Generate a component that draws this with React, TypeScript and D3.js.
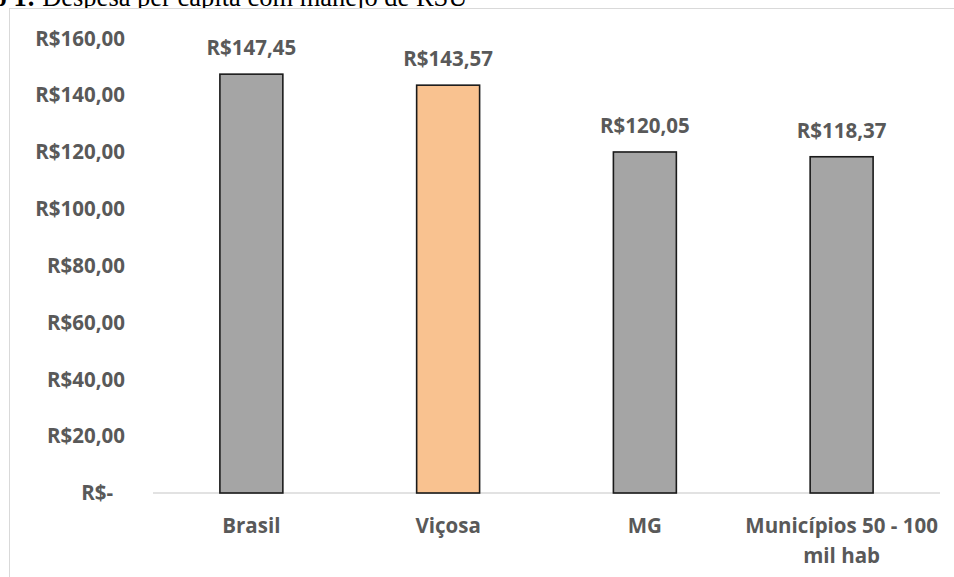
import React, { useRef, useEffect } from 'react';
import * as d3 from 'd3';

const categories = ['Brasil', 'Viçosa', 'MG', 'Municípios 50 - 100 mil hab'];
const values = [147.45, 143.57, 120.05, 118.37];
const barColors = ['#a5a5a5', '#f9c290', '#a5a5a5', '#a5a5a5'];
const yTicks = [0, 20, 40, 60, 80, 100, 120, 140, 160];

const W = 954;
const H = 577;

const brl = (v: number) => (v === 0 ? 'R$-' : 'R$' + v.toFixed(2).replace('.', ','));

const App = () => {
    const svgRef = useRef<SVGSVGElement>(null);

    useEffect(() => {
        if (!svgRef.current) return;
        const svg = d3.select(svgRef.current);
        svg.selectAll('*').remove();

        const font = "'Open Sans', sans-serif";
        const labelColor = '#595959';
        const fs = 20.5;

        // caption (clipped at the top of the page, as in the source)
        const cap = svg.append('text')
            .attr('x', -80)
            .attr('y', 6)
            .attr('font-family', "'Liberation Serif', 'Times New Roman', serif")
            .attr('font-size', 26.5)
            .attr('fill', '#000');
        cap.append('tspan').attr('font-weight', 'bold').text('Gráfico 1:');
        cap.append('tspan').text(' Despesa per capita com manejo de RSU');

        // chart frame
        svg.append('rect')
            .attr('x', 9.5).attr('y', 8.5)
            .attr('width', 1000).attr('height', 700)
            .attr('fill', 'white')
            .attr('stroke', '#d9d9d9')
            .attr('stroke-width', 1);

        const x = d3.scaleBand<string>()
            .domain(categories)
            .range([153, 940])
            .paddingInner(0.68)
            .paddingOuter(0.34);

        const y = d3.scaleLinear().domain([0, 160]).range([493, 38.5]);

        // y tick labels
        svg.append('g').selectAll('text')
            .data(yTicks)
            .enter()
            .append('text')
            .attr('x', d => (d === 0 ? 113 : 125))
            .attr('y', d => y(d))
            .attr('dy', '0.35em')
            .attr('text-anchor', 'end')
            .attr('font-family', font)
            .attr('font-weight', 700)
            .attr('font-size', fs)
            .attr('fill', labelColor)
            .text(d => brl(d));

        // baseline
        svg.append('line')
            .attr('x1', 153).attr('x2', 940)
            .attr('y1', y(0)).attr('y2', y(0))
            .attr('stroke', '#d9d9d9')
            .attr('stroke-width', 1.5);

        // bars
        svg.append('g').selectAll('rect')
            .data(categories)
            .enter()
            .append('rect')
            .attr('x', d => x(d)!)
            .attr('y', (d, i) => y(values[i]))
            .attr('width', x.bandwidth())
            .attr('height', (d, i) => y(0) - y(values[i]))
            .attr('fill', (d, i) => barColors[i])
            .attr('stroke', '#1a1a1a')
            .attr('stroke-width', 1.6);

        // value labels
        svg.append('g').selectAll('text')
            .data(categories)
            .enter()
            .append('text')
            .attr('x', d => x(d)! + x.bandwidth() / 2)
            .attr('y', (d, i) => y(values[i]) - 26)
            .attr('dy', '0.35em')
            .attr('text-anchor', 'middle')
            .attr('font-family', font)
            .attr('font-weight', 700)
            .attr('font-size', fs)
            .attr('fill', labelColor)
            .text((d, i) => brl(values[i]));

        // category labels (wrapped like Excel)
        const wrap: Record<string, string[]> = {
            'Municípios 50 - 100 mil hab': ['Municípios 50 - 100', 'mil hab'],
        };
        const cat = svg.append('g').selectAll('text')
            .data(categories)
            .enter()
            .append('text')
            .attr('x', d => x(d)! + x.bandwidth() / 2)
            .attr('y', 526)
            .attr('text-anchor', 'middle')
            .attr('font-family', font)
            .attr('font-weight', 700)
            .attr('font-size', fs)
            .attr('fill', labelColor);
        cat.each(function (d) {
            const lines = wrap[d] || [d];
            const t = d3.select(this);
            lines.forEach((ln, k) => {
                t.append('tspan')
                    .attr('x', x(d)! + x.bandwidth() / 2)
                    .attr('dy', k === 0 ? '0.35em' : 30)
                    .text(ln);
            });
        });
    }, []);

    return (
        <svg
            ref={svgRef}
            width={W}
            height={H}
            style={{ position: 'absolute', left: 0, top: 0, background: 'white' }}
        ></svg>
    );
};

export default App;
